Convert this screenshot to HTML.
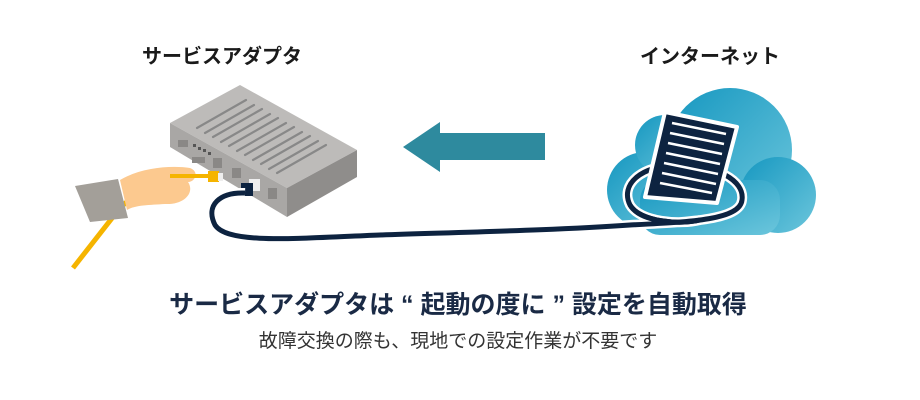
<!DOCTYPE html>
<html><head><meta charset="utf-8"><style>
body{margin:0;background:#fff;}
.w{position:relative;width:920px;height:400px;overflow:hidden;font-family:"Liberation Sans","Noto Sans CJK JP",sans-serif;}
.t{position:absolute;white-space:nowrap;transform:translateX(-50%);line-height:1.2;}
</style></head><body><div class="w">
<svg width="920" height="400" style="position:absolute;left:0;top:0">
<defs><linearGradient id="cg" x1="0" y1="0" x2="1" y2="1"><stop offset="0" stop-color="#1597c0"/><stop offset="1" stop-color="#6cc6dc"/></linearGradient></defs>
<g fill="url(#cg)">
<circle cx="730" cy="150" r="62"/><circle cx="645" cy="190" r="38"/><circle cx="778" cy="195" r="38"/><circle cx="665" cy="145" r="30"/>
<rect x="640" y="180" width="140" height="55" rx="20"/>
</g>
<polygon points="403,147 440,122 440,133 545,133 545,160 440,160 440,172" fill="#2e8a9e"/>
<polygon points="170,123 240,85 357,150 287,188" fill="#bdbbb9"/>
<polygon points="170,123 287,188 287,217 170,147" fill="#a9a7a5"/>
<polygon points="287,188 357,150 357,177 287,217" fill="#8f8d8b"/>
<g stroke="#888" stroke-width="2.2" stroke-linecap="round">
<line x1="197" y1="128" x2="246" y2="100"/><line x1="205" y1="133" x2="254" y2="105"/><line x1="213" y1="137" x2="262" y2="109"/><line x1="221" y1="142" x2="270" y2="114"/><line x1="229" y1="146" x2="278" y2="118"/><line x1="237" y1="151" x2="286" y2="123"/><line x1="245" y1="155" x2="294" y2="127"/><line x1="253" y1="160" x2="302" y2="132"/><line x1="261" y1="164" x2="310" y2="136"/><line x1="269" y1="169" x2="318" y2="141"/><line x1="277" y1="173" x2="326" y2="145"/>
</g>
<g fill="#8a8886"><rect x="178" y="140" width="10" height="7"/><rect x="192" y="157" width="13" height="6"/><rect x="213" y="158" width="9" height="10"/><rect x="232" y="168" width="9" height="10"/><rect x="268" y="188" width="9" height="11"/></g>
<g fill="#555"><rect x="193" y="144" width="3" height="3"/><rect x="198" y="147" width="3" height="3"/><rect x="203" y="149" width="3" height="3"/><rect x="208" y="152" width="3" height="3"/></g>
<rect x="249" y="179" width="11" height="12" fill="#eee"/>
<rect x="241" y="183" width="12" height="13" fill="#0d2340"/>
<path d="M245,193 C220,192 205,205 215,225 C228,245 300,238 380,235 C470,232 560,230 630,225 C690,222 740,220 742,200 C745,180 715,165 680,165 C640,165 620,185 630,205 C640,222 680,225 700,220" fill="none" stroke="#fff" stroke-width="10"/>
<path d="M245,193 C220,192 205,205 215,225 C228,245 300,238 380,235 C470,232 560,230 630,225 C690,222 740,220 742,200 C745,180 715,165 680,165 C640,165 620,185 630,205 C640,222 680,225 700,220" fill="none" stroke="#0d2340" stroke-width="5"/>
<polygon points="665,112 737,127 717,203 645,197" fill="#0d2340" stroke="#fff" stroke-width="4" stroke-linejoin="round"/>
<g stroke="#fff" stroke-width="2.5">
<line x1="672" y1="123" x2="726" y2="134"/><line x1="670" y1="133" x2="724" y2="144"/><line x1="668" y1="143" x2="722" y2="154"/><line x1="666" y1="153" x2="720" y2="164"/><line x1="664" y1="163" x2="718" y2="174"/><line x1="662" y1="173" x2="716" y2="184"/><line x1="660" y1="183" x2="712" y2="193"/>
</g>
<path d="M630,205 C640,222 680,225 700,220" fill="none" stroke="#0d2340" stroke-width="5"/>
<path d="M73,268 L120,208 L140,190" fill="none" stroke="#f5b400" stroke-width="5"/>
<polygon points="75,186 118,179 128,218 90,222" fill="#a39f99"/>
<path d="M120,180 C140,168 170,165 190,168 C200,172 195,182 188,182 C195,192 185,205 165,204 C150,205 135,205 127,210 Z" fill="#fcc98f"/>
<path d="M170,176 L212,176" stroke="#f5b400" stroke-width="4"/>
<rect x="208" y="171" width="11" height="11" fill="#f5b400"/><rect x="218" y="173" width="5" height="8" fill="#eee"/>
</svg>
<div class="t" style="left:222px;top:45px;font-size:20px;font-weight:bold;color:#1a1a1a">サービスアダプタ</div>
<div class="t" style="left:710px;top:45px;font-size:20px;font-weight:bold;color:#1a1a1a">インターネット</div>
<div class="t" style="left:458px;top:290px;font-size:25px;font-weight:bold;color:#1a2a45">サービスアダプタは “ 起動の度に ” 設定を自動取得</div>
<div class="t" style="left:458px;top:331px;font-size:19px;color:#333">故障交換の際も、現地での設定作業が不要です</div>
</div></body></html>
